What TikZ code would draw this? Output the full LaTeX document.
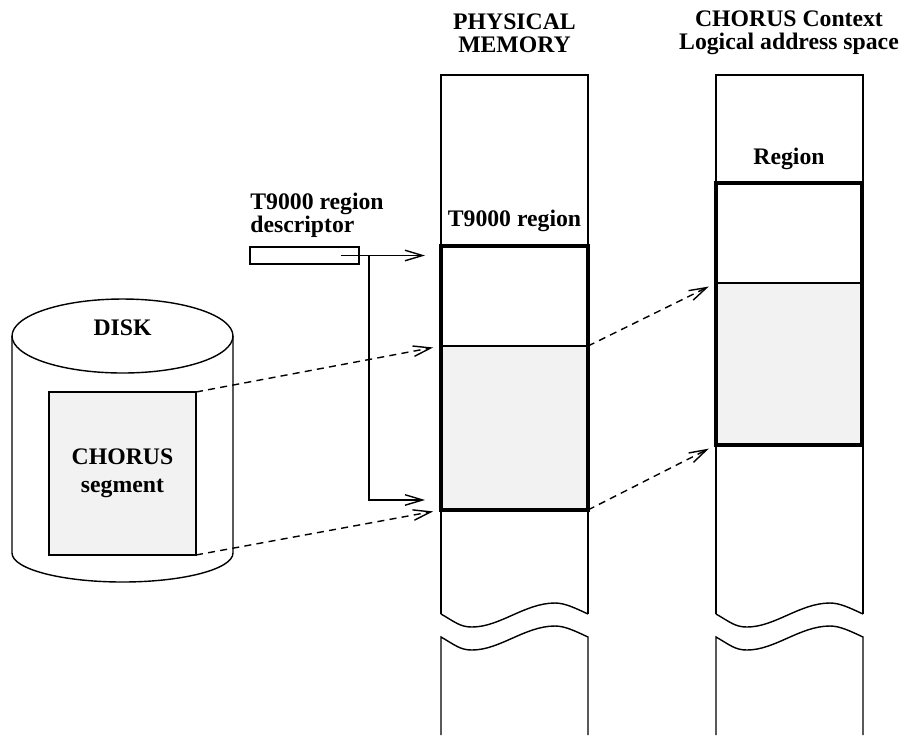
\documentclass[tikz,border=0pt]{standalone}
\usepackage{fontspec}
\setmainfont{Liberation Serif}
\usepackage{tikz}
\usetikzlibrary{shapes.geometric,arrows.meta,positioning,calc}
\definecolor{seggray}{RGB}{242,242,242}

\begin{document}
\begin{tikzpicture}[x=0.02cm, y=-0.02cm,
    label/.style={font=\bfseries\fontsize{13.5}{13}\selectfont, align=center, inner sep=0pt},
    col/.style={line width=0.8pt},
    area/.style={rectangle, draw, line width=0.8pt, outer sep=0pt, inner sep=0pt, anchor=north west},
    region/.style={area, line width=1.8pt},
    seg/.style={area, fill=seggray},
    arrow/.style={-{Straight Barb[length=10pt,width=6pt]}, line width=0.8pt},
    maparrow/.style={arrow, dash pattern=on 4pt off 3pt, shorten >=0.16cm}
  ]
    \useasboundingbox (0,0) rectangle (909,735);

    % column headings
    \node[label] (hphys) at (514.5,33) {PHYSICAL\\MEMORY};
    \node[label] (hlog) at (789,33) {CHORUS Context\\Logical address space};

    % the two memory columns, broken near the bottom
    \foreach \cx in {0,275} {
      \begin{scope}[xshift=\cx*0.02cm]
        \draw[col] (441,614) -- (441,75) -- (588,75) -- (588,614);
        \draw[col] (441,614) .. controls (455,622) and (460,627) .. (472,627)
          .. controls (500,627) and (525,603) .. (555,603)
          .. controls (565,603) and (575,608) .. (588,614);
        \draw[col] (441,735) -- (441,637) .. controls (455,645) and (460,650) .. (472,650)
          .. controls (500,650) and (525,626) .. (555,626)
          .. controls (565,626) and (575,631) .. (588,637) -- (588,735);
      \end{scope}
    }

    % physical memory
    \node[seg, minimum width=2.94cm, minimum height=3.28cm] (pseg) at (441,346) {};
    \node[region, minimum width=2.94cm, minimum height=5.28cm] (pregion) at (441,246) {};
    \node[label, above=0.28cm of pregion] (tregion) {T9000 region};

    % logical address space
    \node[seg, minimum width=2.92cm, minimum height=3.24cm] (lseg) at (716,283) {};
    \node[region, minimum width=2.92cm, minimum height=5.24cm] (lregion) at (716,183) {};
    \node[label, above=0.26cm of lregion] (tlregion) {Region};

    % region descriptor
    \node[area, minimum width=2.18cm, minimum height=0.34cm] (desc) at (250,247) {};
    \node[label, align=left, above=0.18cm of desc.north west, anchor=south west] (tdesc) {T9000 region\\descriptor};

    % disk
    \node[ellipse, draw, line width=0.8pt, minimum width=4.42cm, minimum height=1.48cm, inner sep=0pt, outer sep=0pt] (disk) at (122.5,336) {};
    \node[label, above=0pt of disk.center] (tdisk) {DISK};
    \draw[col] (disk.west) -- (12,553) .. controls (12,569) and (61.5,582) .. (122.5,582)
      .. controls (183.5,582) and (233,569) .. (233,553) -- (disk.east);
    \node[seg, minimum width=2.94cm, minimum height=3.26cm, font=\bfseries\fontsize{13.5}{16}\selectfont, align=center] (cseg) at (49,392) {CHORUS\\segment};

    % descriptor arrows
    \coordinate (dsrc) at ($(desc.east)+(-18,0)$);
    \coordinate (dbranch) at ($(desc.east)+(10,0)$);
    \draw[arrow, shorten >=0.32cm] (dsrc) -- (dsrc -| pregion.west);
    \draw[arrow, shorten >=0.32cm] (dbranch) |- ([yshift=0.2cm]pseg.south west);

    % mappings
    \draw[maparrow] (cseg.north east) -- (pseg.north west);
    \draw[maparrow] (cseg.south east) -- (pseg.south west);
    \draw[maparrow] (pseg.north east) -- (lseg.north west);
    \draw[maparrow] (pseg.south east) -- (lseg.south west);
\end{tikzpicture}
\end{document}
